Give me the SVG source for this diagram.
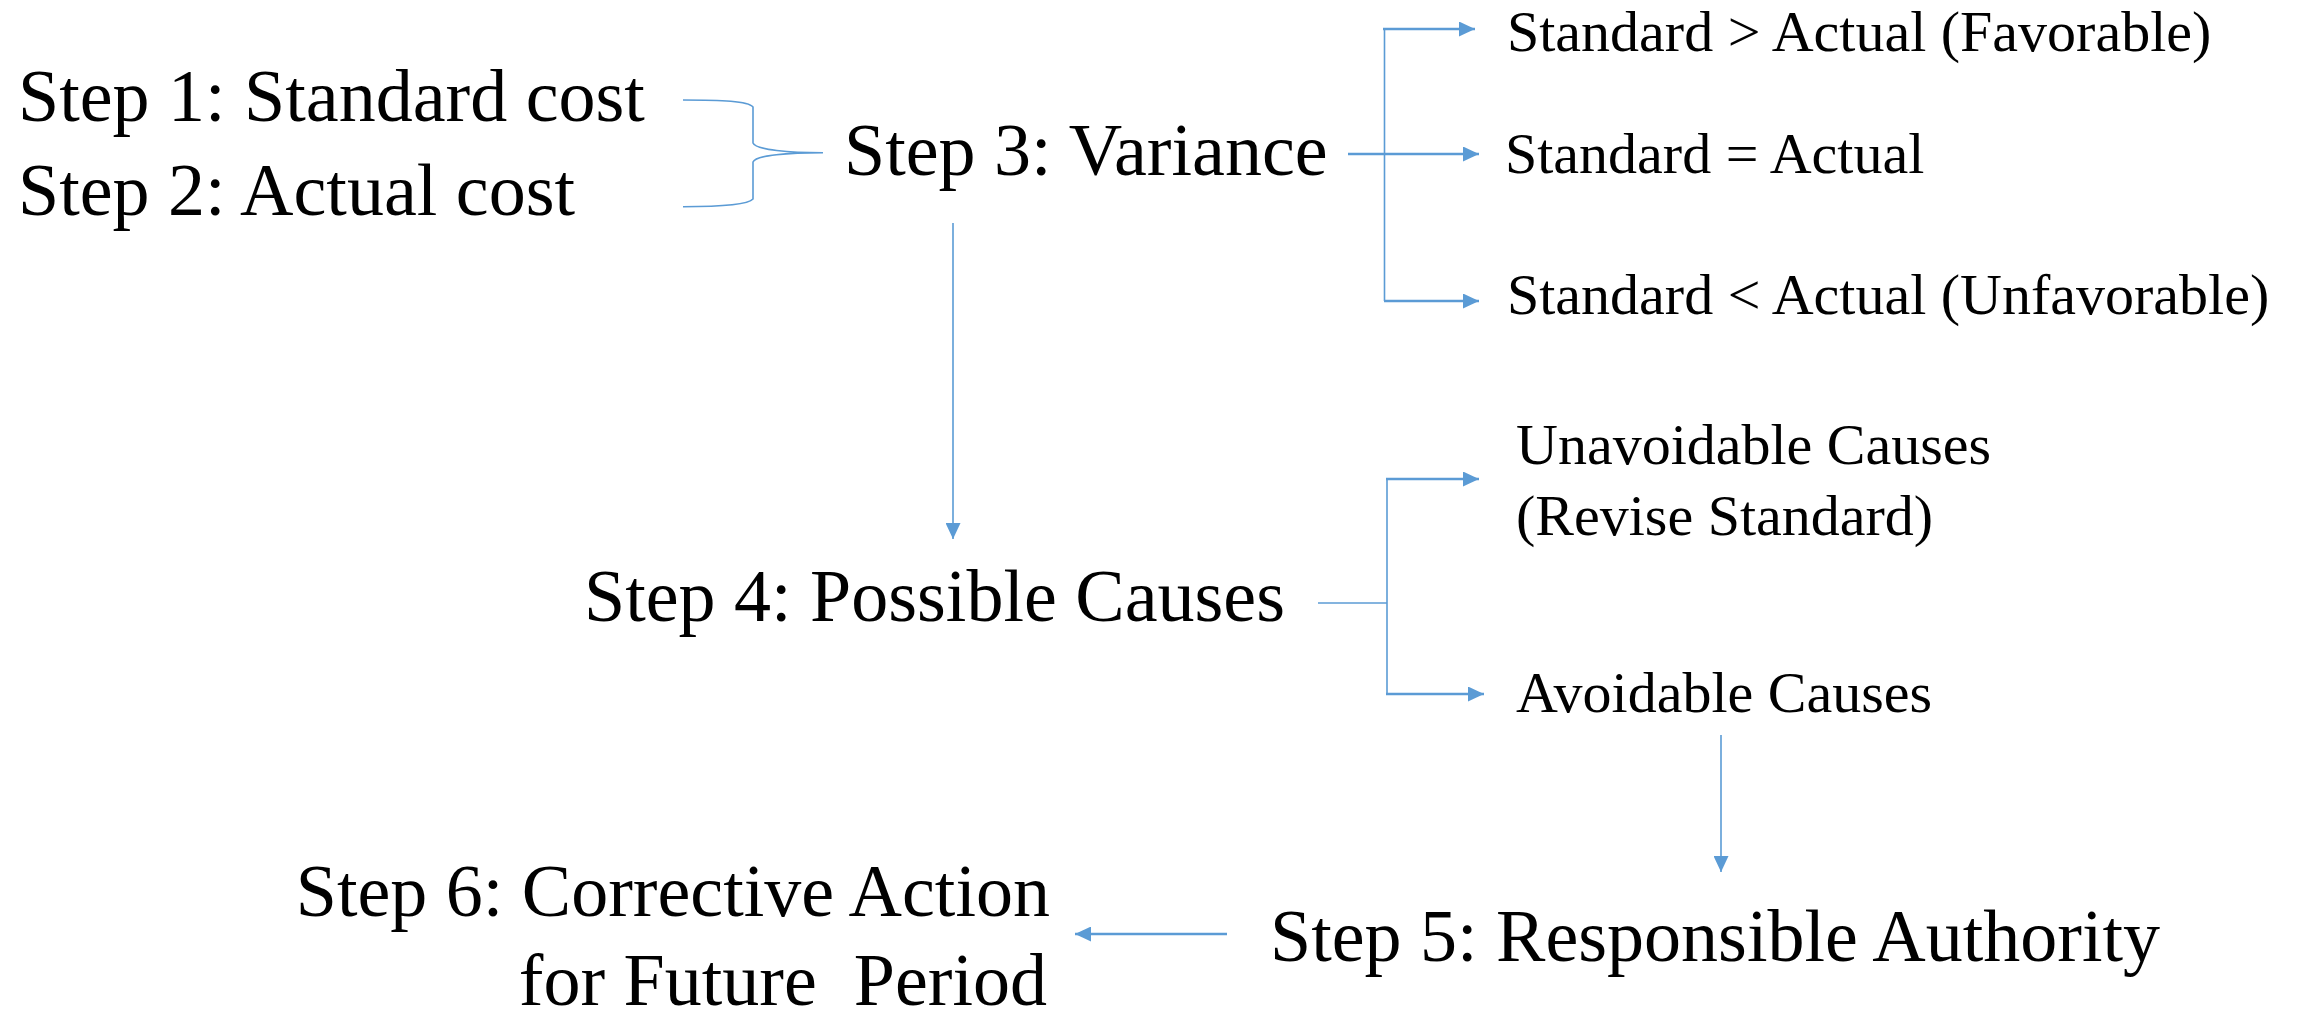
<svg xmlns="http://www.w3.org/2000/svg" width="2303" height="1011" viewBox="0 0 2303 1011">
<style>
text { font-family: "Liberation Serif", "Times New Roman", serif; fill: #000; }
.big { font-size: 74px; }
.small { font-size: 58px; }
.ln { stroke: #5B9BD5; fill: none; stroke-width: 1.6; }
.thick { stroke: #5B9BD5; fill: none; stroke-width: 2.6; }
</style>
<defs>
<marker id="ah" markerUnits="userSpaceOnUse" markerWidth="16" markerHeight="15" refX="16" refY="7.5" orient="auto" viewBox="0 0 16 15">
<path d="M0,0 L16,7.5 L0,15 z" fill="#5B9BD5"/>
</marker>
</defs>
<rect width="2303" height="1011" fill="#fff"/>
<g id="connectors">
<path class="ln" d="M683,100 C722,100 748,101 753,107 L753,143 C756,150 790,152.7 823,152.7 C790,152.7 756,155 753,162 L753,199 C748,205 722,206.7 683,206.7"/>
<line class="ln" x1="1384.5" y1="29" x2="1384.5" y2="301"/>
<line class="thick" x1="1383" y1="29" x2="1475" y2="29" marker-end="url(#ah)"/>
<line class="thick" x1="1348" y1="154" x2="1479" y2="154" marker-end="url(#ah)"/>
<line class="thick" x1="1384" y1="301" x2="1479" y2="301" marker-end="url(#ah)"/>
<line class="ln" x1="953" y1="223" x2="953" y2="539" marker-end="url(#ah)"/>
<line class="ln" x1="1318" y1="603" x2="1387" y2="603"/>
<line class="ln" x1="1387" y1="479" x2="1387" y2="694"/>
<line class="thick" x1="1386" y1="479" x2="1479" y2="479" marker-end="url(#ah)"/>
<line class="thick" x1="1386" y1="694" x2="1484" y2="694" marker-end="url(#ah)"/>
<line class="ln" x1="1721" y1="735" x2="1721" y2="872" marker-end="url(#ah)"/>
<line class="thick" x1="1227" y1="934" x2="1075" y2="934" marker-end="url(#ah)"/>
</g>
<g id="step1"><text class="big" x="18" y="121">Step 1: Standard cost</text></g>
<g id="step2"><text class="big" x="18" y="215">Step 2: Actual cost</text></g>
<g id="step3"><text class="big" x="844" y="175">Step 3: Variance</text></g>
<g id="favorable"><text class="small" x="1507" y="51">Standard &gt; Actual (Favorable)</text></g>
<g id="equal"><text class="small" x="1505" y="173">Standard = Actual</text></g>
<g id="unfavorable"><text class="small" x="1507" y="314">Standard &lt; Actual (Unfavorable)</text></g>
<g id="step4"><text class="big" x="584" y="621">Step 4: Possible Causes</text></g>
<g id="unavoidable"><text class="small" x="1516" y="464">Unavoidable Causes</text><text class="small" x="1516" y="535">(Revise Standard)</text></g>
<g id="avoidable"><text class="small" x="1516" y="712">Avoidable Causes</text></g>
<g id="step5"><text class="big" x="1270" y="961">Step 5: Responsible Authority</text></g>
<g id="step6"><text class="big" x="1050" y="916" text-anchor="end">Step 6: Corrective Action</text><text class="big" x="1047" y="1005" text-anchor="end" xml:space="preserve">for Future  Period</text></g>
</svg>
